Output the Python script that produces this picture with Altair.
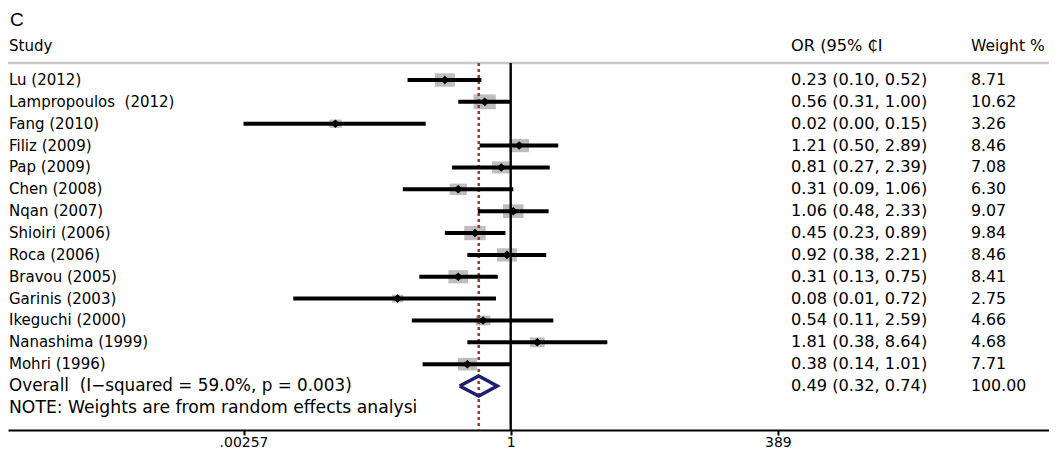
import altair as alt
import pandas as pd

# ---------------- data ----------------
studies = ["Lu (2012)", "Lampropoulos\u00a0\u00a0(2012)", "Fang (2010)", "Filiz (2009)",
           "Pap (2009)", "Chen (2008)", "Nqan (2007)", "Shioiri (2006)",
           "Roca (2006)", "Bravou (2005)", "Garinis (2003)", "Ikeguchi (2000)",
           "Nanashima (1999)", "Mohri (1996)"]
or_est = [0.23, 0.56, 0.02, 1.21, 0.81, 0.31, 1.06, 0.45, 0.92, 0.31, 0.08, 0.54, 1.81, 0.38]
ci_low = [0.10, 0.31, 0.00257, 0.50, 0.27, 0.09, 0.48, 0.23, 0.38, 0.13, 0.0078, 0.11, 0.38, 0.14]
ci_high = [0.52, 1.00, 0.15, 2.89, 2.39, 1.06, 2.33, 0.89, 2.21, 0.75, 0.72, 2.59, 8.64, 1.01]
weights = [8.71, 10.62, 3.26, 8.46, 7.08, 6.30, 9.07, 9.84, 8.46, 8.41, 2.75, 4.66, 4.68, 7.71]

overall_est = 0.49
overall_low = 0.32
overall_high = 0.74
overall_weight = 100.00
overall_label = "Overall\u00a0\u00a0(I\u2212squared = 59.0%, p = 0.003)"
note_label = "NOTE: Weights are from random effects analysi"

header_study = "Study"
header_or = "OR (95% \u20b5I"
header_weight = "Weight %"
panel_label = "C"

tick_values = [0.00257, 1, 389]
tick_labels = [".00257", "1", "389"]

# ---------------- layout ----------------
W, H_PLOT, PAD_B = 1041, 422, 22
PX_PER_DECADE = 103.15
X_AT_ONE = 502.7
x_domain = [10 ** (-X_AT_ONE / PX_PER_DECADE), 10 ** ((W - X_AT_ONE) / PX_PER_DECADE)]
ROW0_Y, ROW_H = 72, 21.86
y_domain = [1 - ROW0_Y / ROW_H, 1 + (H_PLOT - ROW0_Y) / ROW_H]
HEADER_ROW = -0.55
HEADER_LINE_ROW = 0.22
OVERALL_ROW = len(studies) + 1
NOTE_ROW = len(studies) + 2

FONT = "DejaVu Sans"

xs = alt.Scale(type="log", domain=x_domain, nice=False)
ys = alt.Scale(domain=y_domain, reverse=True, nice=False, zero=False)

# ---------------- tables ----------------
df = pd.DataFrame({
    "study": studies, "est": or_est, "lo": ci_low, "hi": ci_high, "w": weights,
})
df["row"] = range(1, len(df) + 1)
df["or_text"] = [f"{e:.2f} ({l:.2f}, {h:.2f})" for e, l, h in zip(or_est, ci_low, ci_high)]
df["w_text"] = [("\u2002" if w < 10 else "") + f"{w:.2f}" for w in weights]

names_text = pd.DataFrame({"row": [HEADER_ROW] + list(df["row"]),
                           "txt": [header_study] + studies})
overall_text = pd.DataFrame({"row": [OVERALL_ROW], "txt": [overall_label]})
note_text = pd.DataFrame({"row": [NOTE_ROW], "txt": [note_label]})
or_text = pd.DataFrame({
    "row": [HEADER_ROW] + list(df["row"]) + [OVERALL_ROW],
    "txt": [header_or] + list(df["or_text"]) +
           [f"{overall_est:.2f} ({overall_low:.2f}, {overall_high:.2f})"],
})
wh_text = pd.DataFrame({"row": [HEADER_ROW], "txt": [header_weight]})
w_text = pd.DataFrame({
    "row": list(df["row"]) + [OVERALL_ROW],
    "txt": list(df["w_text"]) + [f"{overall_weight:.2f}"],
})

DIAMOND_H = 0.46
diamond = pd.DataFrame({
    "x": [overall_low, overall_est, overall_high, overall_est, overall_low],
    "row": [OVERALL_ROW, OVERALL_ROW - DIAMOND_H, OVERALL_ROW, OVERALL_ROW + DIAMOND_H, OVERALL_ROW],
    "o": [0, 1, 2, 3, 4],
})

# axis label expression from the tick lists
label_expr = f"'{tick_labels[-1]}'"
for v, lab in reversed(list(zip(tick_values[:-1], tick_labels[:-1]))):
    label_expr = f"datum.value <= {v * 1.001} ? '{lab}' : ({label_expr})"

x_axis = alt.Axis(values=tick_values, labelExpr=label_expr, grid=False, title=None,
                  domainColor="black", domainWidth=2.2, tickColor="black", tickWidth=2,
                  tickSize=5, labelFont=FONT, labelFontSize=14, labelColor="black",
                  labelPadding=0, labelFlush=False, labelOverlap=False)

RECT = "M-1,-0.667L1,-0.667L1,0.667L-1,0.667Z"
DIAM = "M0,-0.9L1,0L0,0.9L-1,0Z"

base = alt.Chart(df)

boxes = base.mark_point(shape=RECT, filled=True, color="#BEBEBE", opacity=1).encode(
    x=alt.X("est:Q", scale=xs, axis=x_axis),
    y=alt.Y("row:Q", scale=ys, axis=None),
    size=alt.Size("w:Q", scale=alt.Scale(domain=[0, 12], range=[0, 560]), legend=None),
)

header_line = alt.Chart(pd.DataFrame({"r": [HEADER_LINE_ROW]})).mark_rule(
    color="#C8C8C8", strokeWidth=2.5).encode(
    x=alt.value(0), x2=alt.value(W), y=alt.Y("r:Q", scale=ys, axis=None))

vlines = pd.DataFrame({"x": [1.0], "r1": [HEADER_LINE_ROW], "r2": [y_domain[1]]})
null_line = alt.Chart(vlines).mark_rule(color="black", strokeWidth=2.4).encode(
    x=alt.X("x:Q", scale=xs, axis=x_axis),
    y=alt.Y("r1:Q", scale=ys, axis=None), y2="r2:Q")

olines = pd.DataFrame({"x": [overall_est], "r1": [HEADER_LINE_ROW], "r2": [y_domain[1]]})
overall_line = alt.Chart(olines).mark_rule(color="#9B3B3B", strokeWidth=2.6,
                                           strokeDash=[3, 3]).encode(
    x=alt.X("x:Q", scale=xs, axis=x_axis),
    y=alt.Y("r1:Q", scale=ys, axis=None), y2="r2:Q")

ci = base.mark_rule(color="black", strokeWidth=4).encode(
    x=alt.X("lo:Q", scale=xs, axis=x_axis), x2="hi:Q",
    y=alt.Y("row:Q", scale=ys, axis=None))

points = base.mark_point(shape=DIAM, filled=True, color="black", opacity=1, size=90).encode(
    x=alt.X("est:Q", scale=xs, axis=x_axis),
    y=alt.Y("row:Q", scale=ys, axis=None))

dia = alt.Chart(diamond).mark_line(color="#1F1F70", strokeWidth=3.5, strokeJoin="miter").encode(
    x=alt.X("x:Q", scale=xs, axis=x_axis),
    y=alt.Y("row:Q", scale=ys, axis=None),
    order="o:Q")

def text_layer(data, xpx, fs):
    return alt.Chart(data).mark_text(align="left", baseline="middle", font=FONT,
                                     fontSize=fs, color="black").encode(
        x=alt.value(xpx), y=alt.Y("row:Q", scale=ys, axis=None), text="txt:N")

t_names = text_layer(names_text, 1, 15)
t_overall = text_layer(overall_text, 1, 16.8)
t_note = text_layer(note_text, 1, 17.2)
t_or = text_layer(or_text, 783, 16.2)
t_wh = text_layer(wh_text, 963, 15.5)
t_w = text_layer(w_text, 963, 15.8)

t_panel = alt.Chart(pd.DataFrame({"txt": [panel_label]})).mark_text(
    align="left", baseline="alphabetic", font="Liberation Sans", fontSize=19, color="black").encode(
    x=alt.value(2), y=alt.value(18), text="txt:N")

chart = alt.layer(
    boxes, header_line, null_line, overall_line, ci, points, dia,
    t_names, t_overall, t_note, t_or, t_wh, t_w, t_panel,
).properties(
    width=W, height=H_PLOT,
    padding={"left": 0, "right": 0, "top": 0, "bottom": PAD_B},
    autosize=alt.AutoSizeParams(type="none"),
    background="white",
).configure_view(stroke=None)

chart.save("out.html", embed_options={"renderer": "svg", "actions": False})
